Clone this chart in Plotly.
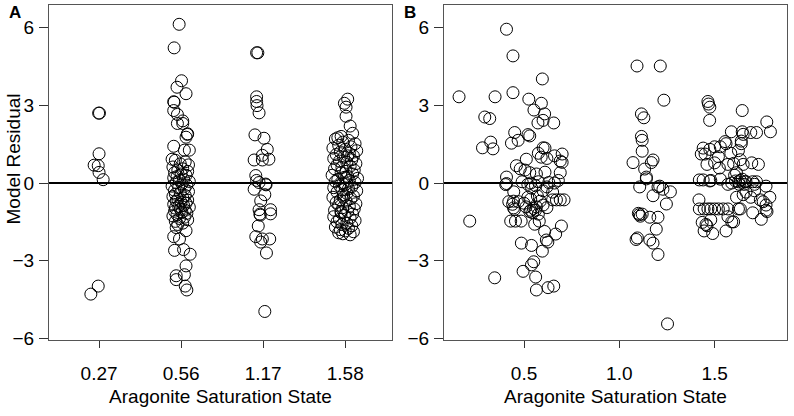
import plotly.graph_objects as go

# ---------------- Panel A (categorical aragonite levels, jittered) ----------------
a_tick_labels = ["0.27", "0.56", "1.17", "1.58"]

a1_x = [0.995, 1.005, 1.00, 0.94, 0.99, 1.00, 1.05, 0.99, 0.90]
a1_y = [2.70, 2.70, 1.13, 0.69, 0.67, 0.41, 0.13, -3.98, -4.29]

a2_x = [1.976, 1.915, 2.005, 1.95, 2.06, 1.91, 1.915, 1.91, 1.955, 2.02, 1.955, 2.02,
        2.08, 2.075, 2.06, 1.91, 2.04, 2.10, 1.89,
        1.94, 2.06, 1.91, 1.98, 1.92, 2.03, 2.11, 2.06, 1.94, 2.04, 1.94, 2.05, 2.07,
        1.93, 2.05, 1.99, 2.09, 1.90, 2.02, 1.96, 2.08, 1.92, 2.00, 2.06, 1.95,
        1.91, 2.03, 1.98, 2.10, 1.94, 2.01, 2.07, 1.89, 1.97, 2.04, 1.92, 2.09,
        1.99, 1.93, 2.05, 1.90, 2.02, 1.96, 2.08, 1.94, 2.00, 2.06, 1.91, 2.03,
        1.97, 2.10, 1.93, 1.99, 2.05, 1.92, 2.01, 2.07, 1.95, 1.90, 2.04, 1.98,
        2.08, 1.93, 2.02, 1.96]
a2_y = [6.13, 5.22, 3.95, 3.70, 3.45, 3.14, 3.12, 2.80, 2.65, 2.40, 2.30, 2.30,
        1.90, 1.88, 1.77, 1.42, 1.27, 1.27, 0.92,
        -1.72, -1.84, -2.07, -2.16, -2.60, -2.57, -2.75, -3.20, -3.58, -3.54, -3.73, -3.98, -4.13,
        0.88, 0.82, 0.74, 0.70, 0.62, 0.55, 0.50, 0.45, 0.40, 0.35, 0.30, 0.25,
        0.20, 0.15, 0.10, 0.06, 0.02, -0.03, -0.08, -0.12, -0.17, -0.22, -0.28, -0.33,
        -0.38, -0.43, -0.48, -0.52, -0.57, -0.62, -0.66, -0.70, -0.74, -0.78, -0.82, -0.86,
        -0.90, -0.93, -0.97, -1.01, -1.05, -1.09, -1.13, -1.17, -1.22, -1.27, -1.32, -1.37,
        -1.42, -1.48, -1.55, -1.60]

a3_x = [2.92, 2.935, 2.92, 2.92, 2.925, 2.95, 2.90, 3.01, 3.05, 2.99, 3.07, 2.89, 2.99,
        2.91, 2.92, 3.03, 3.035, 2.89, 2.97, 2.95, 3.09, 2.96, 2.965, 3.09, 2.94, 2.91,
        2.99, 3.08, 2.97, 3.04, 3.02, 2.95, 3.02]
a3_y = [5.03, 5.03, 3.33, 3.15, 2.99, 2.71, 1.86, 1.73, 1.30, 1.07, 0.92, 0.89, 0.89,
        0.29, 0.10, -0.04, -0.07, -0.24, -0.69, -1.03, -1.03, -1.20, -1.24, -1.19, -1.66, -2.07,
        -2.16, -2.16, -2.28, -2.70, -4.96, 0.02, -0.45]

a4_x = [4.03, 3.99, 4.01, 4.01, 4.06, 4.09, 3.95, 3.91,
        3.88, 4.04, 3.97, 4.12, 3.92, 4.07, 3.85, 4.00, 4.14, 3.94, 4.05, 3.89,
        4.10, 3.98, 3.86, 4.08, 3.93, 4.02, 4.13, 3.90, 4.06, 3.96, 3.87, 4.11,
        4.01, 3.95, 4.09, 3.84, 4.03, 3.99, 4.15, 3.91, 4.05, 3.88, 4.12, 3.97,
        4.00, 3.93, 4.08, 3.86, 4.04, 3.96, 4.14, 3.90, 4.02, 3.98, 4.10, 3.85,
        4.07, 3.94, 4.01, 3.89, 4.13, 3.92, 4.05, 3.97, 4.11, 3.87, 4.03, 3.95,
        4.09, 3.99, 3.86, 4.06, 3.93, 4.12, 3.90, 4.02, 3.96, 4.08, 3.88, 4.04,
        3.94, 4.00, 4.10, 3.92, 3.97, 4.06, 3.95, 4.01, 3.98, 4.03]
a4_y = [3.24, 3.08, 2.93, 2.58, 2.20, 1.92, 1.80, 1.75,
        1.70, 1.65, 1.58, 1.52, 1.46, 1.40, 1.35, 1.30, 1.25, 1.20, 1.15, 1.10,
        1.05, 1.00, 0.95, 0.90, 0.85, 0.80, 0.75, 0.70, 0.65, 0.60, 0.55, 0.50,
        0.45, 0.40, 0.35, 0.30, 0.26, 0.22, 0.18, 0.14, 0.10, 0.06, 0.02, -0.02,
        -0.06, -0.10, -0.14, -0.18, -0.22, -0.26, -0.30, -0.35, -0.40, -0.45, -0.50, -0.55,
        -0.60, -0.65, -0.70, -0.75, -0.80, -0.85, -0.90, -0.95, -1.00, -1.05, -1.10, -1.15,
        -1.20, -1.25, -1.30, -1.35, -1.40, -1.45, -1.50, -1.55, -1.60, -1.65, -1.70, -1.75,
        -1.80, -1.85, -1.88, -1.92, -1.96, -2.00, -1.10, 0.20, -0.55, 1.05]

# ---------------- Panel B (continuous aragonite saturation state) ----------------
b_x = [0.159, 0.408, 0.442, 0.596, 0.348, 0.442, 0.525, 0.591, 0.552, 0.294, 0.320, 0.608,
       0.600, 0.573, 0.656, 0.451, 0.521, 0.530, 0.469, 0.434, 0.325, 0.282, 0.337, 0.600,
       0.610, 0.575, 0.590, 0.620, 0.660, 0.700, 0.690, 0.700, 0.512, 0.460, 0.480, 0.505,
       0.530, 0.565, 0.610, 0.690, 0.408, 0.408, 0.404, 0.446, 0.215, 0.346, 0.495, 0.539,
       0.551, 0.561, 0.565, 0.626, 0.656, 0.486, 0.539, 0.596, 0.617, 0.625, 0.666, 0.696,
       0.608, 0.430, 0.455, 0.485, 0.556, 0.580, 0.420, 0.445, 0.470, 0.445, 0.450, 0.670,
       0.690, 0.710, 0.650, 0.510, 0.535, 0.550, 0.565, 0.520, 0.535, 0.570, 0.585, 0.520,
       0.535, 0.560, 0.575, 0.630, 0.660, 0.680, 0.490, 0.540, 0.600, 0.620, 0.650, 0.530,
       0.545, 0.560, 0.575, 0.600, 0.620, 0.500, 0.440,
       1.093, 1.215, 1.234, 1.116, 1.129, 1.116, 1.120, 1.120, 1.072, 1.177, 1.168, 1.133,
       1.142, 1.142, 1.107, 1.203, 1.212, 1.229, 1.268, 1.177, 1.247, 1.100, 1.105, 1.110,
       1.120, 1.160, 1.203, 1.194, 1.088, 1.095, 1.160, 1.177, 1.203, 1.253,
       1.465, 1.468, 1.475, 1.474, 1.645, 1.774, 1.793, 1.588, 1.645, 1.650, 1.690, 1.720,
       1.640, 1.640, 1.555, 1.560, 1.530, 1.500, 1.475, 1.440, 1.430, 1.450, 1.625, 1.520,
       1.585, 1.460, 1.500, 1.525, 1.570, 1.635, 1.650, 1.695, 1.730, 1.600, 1.615, 1.605,
       1.440, 1.475, 1.590, 1.630, 1.665, 1.720, 1.770, 1.420, 1.480, 1.530, 1.570, 1.610,
       1.625, 1.660, 1.700, 1.710, 1.418, 1.420, 1.445, 1.465, 1.480, 1.500, 1.520, 1.545,
       1.570, 1.625, 1.635, 1.615, 1.650, 1.665, 1.690, 1.710, 1.740, 1.755, 1.790, 1.770,
       1.700, 1.745, 1.770, 1.775, 1.600, 1.560, 1.435, 1.455, 1.445, 1.460, 1.480, 1.490,
       1.570, 1.590, 1.635, 1.645, 1.655]
b_y = [3.33, 5.94, 4.91, 4.02, 3.33, 3.49, 3.24, 3.08, 2.82, 2.55, 2.49, 2.67,
       2.42, 2.32, 2.32, 1.95, 1.87, 1.82, 1.65, 1.54, 1.58, 1.36, 1.32, 1.36,
       1.35, 1.15, 1.00, 0.95, 1.05, 1.12, 0.85, 0.80, 0.92, 0.67, 0.55, 0.50,
       0.40, 0.35, 0.42, 0.40, 0.23, -0.02, -0.06, -0.34, -1.47, -3.66, -3.41, -3.16,
       -3.04, -3.63, -4.13, -4.04, -3.98, -2.32, -2.41, -2.63, -2.20, -2.28, -1.97, -1.66,
       -1.87, -1.47, -1.47, -1.47, -1.59, -1.47, -0.72, -0.70, -0.72, -0.96, -1.02, -0.65,
       -0.65, -0.65, -0.65, -0.92, -1.05, -0.98, -0.92, -0.55, -0.62, -0.50, -0.70, -0.05,
       0.00, -0.10, 0.05, 0.02, 0.00, 0.10, 0.05, -0.20, -0.30, -0.15, -0.35, -1.10,
       -1.15, -1.05, -1.20, -0.85, -0.95, -0.78, -0.82,
       4.52, 4.52, 3.20, 2.67, 2.52, 1.80, 1.65, 1.23, 0.79, 0.89, 0.79, 0.54,
       0.23, 0.16, -0.15, -0.15, -0.12, -0.24, -0.34, -0.49, -0.81, -1.17, -1.22, -1.28,
       -1.20, -1.32, -1.32, -1.78, -2.18, -2.12, -2.20, -2.32, -2.76, -5.44,
       3.15, 3.05, 2.93, 2.42, 2.80, 2.36, 1.98, 1.98, 1.98, 1.88, 1.95, 1.95,
       1.62, 1.52, 1.60, 1.52, 1.40, 1.40, 1.30, 1.35, 1.12, 1.12, 1.25, 1.02,
       1.15, 0.72, 0.78, 0.58, 0.72, 0.90, 0.72, 0.78, 0.72, 0.76, 0.40, 0.30,
       0.12, 0.08, 0.00, -0.05, 0.05, 0.05, -0.12, 0.12, 0.10, 0.15, -0.05, 0.08,
       0.05, 0.05, 0.05, -0.05, -0.65, -1.00, -1.00, -1.00, -1.00, -1.00, -1.00, -1.00,
       -1.00, -1.00, -1.00, -0.55, -0.45, -0.35, -0.55, -0.30, -0.65, -0.72, -0.55, -0.85,
       -1.15, -1.40, -1.05, -1.10, -1.50, -1.85, -1.52, -1.60, -1.85, -1.65, -1.42, -1.95,
       -1.30, -1.50, 0.10, 0.15, -0.05]

y_ticks = [-6, -3, 0, 3, 6]
y_tick_labels = ["\u22126", "\u22123", "0", "3", "6"]
b_ticks = [0.5, 1.0, 1.5]
b_tick_labels = ["0.5", "1.0", "1.5"]
x_title = "Aragonite Saturation State"
y_title = "Model Residual"

FONT = "Liberation Sans, Arial, Helvetica, sans-serif"
FS = 19
W, H = 794, 416

marker = dict(symbol="circle-open", size=12, color="black", line=dict(width=1, color="black"))

fig = go.Figure()
for xs, ys in [(a1_x, a1_y), (a2_x, a2_y), (a3_x, a3_y), (a4_x, a4_y)]:
    fig.add_trace(go.Scatter(x=xs, y=ys, mode="markers", marker=marker,
                             xaxis="x", yaxis="y", showlegend=False))
fig.add_trace(go.Scatter(x=b_x, y=b_y, mode="markers", marker=marker,
                         xaxis="x2", yaxis="y2", showlegend=False))

top, bottom = 5, 348
ydom = [1 - bottom / H, 1 - top / H]

frame = dict(showline=True, mirror=True, linecolor="#555555", linewidth=1,
             ticks="outside", tickwidth=1, tickcolor="#333333",
             showgrid=False, zeroline=False,
             tickfont=dict(family=FONT, size=FS, color="black"))

xaxis_common = dict(frame, ticklen=7, ticklabelstandoff=9)
yaxis_common = dict(frame, ticklen=9, ticklabelstandoff=1,
                    range=[-6.08, 6.88], tickvals=y_ticks, ticktext=y_tick_labels,
                    zeroline=True, zerolinecolor="black", zerolinewidth=1.5)

fig.update_layout(
    width=W, height=H,
    margin=dict(l=0, r=0, t=0, b=0),
    paper_bgcolor="white", plot_bgcolor="white",
    font=dict(family=FONT, size=FS, color="black"),
    xaxis=dict(xaxis_common, domain=[49 / W, 392 / W], range=[0.39, 4.57],
               tickvals=[1, 2, 3, 4], ticktext=a_tick_labels, anchor="y",
               title=dict(text=x_title, font=dict(family=FONT, size=FS), standoff=6)),
    yaxis=dict(yaxis_common, domain=ydom, anchor="x"),
    xaxis2=dict(xaxis_common, domain=[444 / W, 787 / W], range=[0.08, 1.88],
                tickvals=b_ticks, ticktext=b_tick_labels, anchor="y2",
                title=dict(text=x_title, font=dict(family=FONT, size=FS), standoff=6)),
    yaxis2=dict(yaxis_common, domain=ydom, anchor="x2"),
    annotations=[
        dict(text="<b>A</b>", x=7 / W, y=1 - 13 / H, xref="paper", yref="paper",
             showarrow=False, xanchor="left", yanchor="middle",
             font=dict(family=FONT, size=17, color="black")),
        dict(text="<b>B</b>", x=402 / W, y=1 - 13 / H, xref="paper", yref="paper",
             showarrow=False, xanchor="left", yanchor="middle",
             font=dict(family=FONT, size=17, color="black")),
        dict(text=y_title, x=13 / W, y=1 - 163 / H, xref="paper", yref="paper",
             showarrow=False, textangle=-90, xanchor="center", yanchor="middle",
             font=dict(family=FONT, size=FS, color="black")),
    ],
)

fig.write_html("out.html", config={"displayModeBar": False},
               post_script="document.body.style.margin='0';")
